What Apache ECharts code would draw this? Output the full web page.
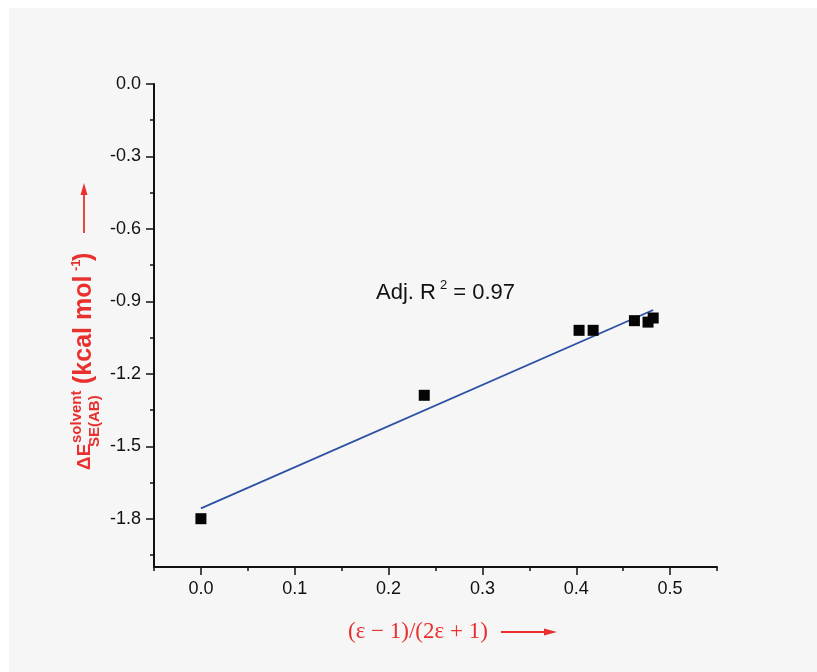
<!DOCTYPE html>
<html>
<head>
<meta charset="utf-8">
<script src="https://cdn.jsdelivr.net/npm/echarts@6/dist/echarts.min.js"></script>
<style>
html,body{margin:0;padding:0;background:#ffffff;}
#bg{position:absolute;left:9px;top:8px;width:808px;height:664px;background:#f6f6f6;}
#chart{position:absolute;left:0;top:0;width:817px;height:672px;}
</style>
</head>
<body>
<div id="bg"></div>
<div id="chart"></div>
<script>
// Data
const xValues = [0.0, 0.238, 0.403, 0.418, 0.462, 0.4765, 0.482];
const yValues = [-1.80, -1.289, -1.020, -1.020, -0.980, -0.986, -0.969];
const fitX = [0.0, 0.482];
const fitY = [-1.757, -0.936];
const xTickLabels = [0.0, 0.1, 0.2, 0.3, 0.4, 0.5];
const xMinorTicks = [-0.05, 0.05, 0.15, 0.25, 0.35, 0.45, 0.55];
const yTickLabels = [0.0, -0.3, -0.6, -0.9, -1.2, -1.5, -1.8];
const yMinorTicks = [-0.15, -0.45, -0.75, -1.05, -1.35, -1.65, -1.95];

const RED = '#e8312f';
const SANS = 'Arial, "Liberation Sans", sans-serif';
const chart = echarts.init(document.getElementById('chart'), null, {renderer: 'canvas'});

const scatterData = xValues.map((x, i) => [x, yValues[i]]);
const fitData = fitX.map((x, i) => [x, fitY[i]]);

chart.setOption({
  backgroundColor: 'transparent',
  animation: false,
  grid: {left: 154, right: 100, top: 84, bottom: 105, containLabel: false},
  xAxis: [{
    type: 'value', min: -0.05, max: 0.55,
    axisLine: {show: true, onZero: false, lineStyle: {color: '#111', width: 2}},
    axisTick: {show: true, inside: false, length: 8, customValues: xTickLabels, lineStyle: {color: '#111', width: 1.5}},
    axisLabel: {show: true, margin: 13, customValues: xTickLabels, formatter: v => v.toFixed(1),
      fontFamily: SANS, fontSize: 18, color: '#111'},
    splitLine: {show: false}
  }, {
    type: 'value', min: -0.05, max: 0.55, position: 'bottom',
    axisLine: {show: false, onZero: false},
    axisTick: {show: true, inside: false, length: 4, customValues: xMinorTicks, lineStyle: {color: '#111', width: 1.5}},
    axisLabel: {show: false},
    splitLine: {show: false}
  }],
  yAxis: [{
    type: 'value', min: -2.0, max: 0.0,
    axisLine: {show: true, onZero: false, lineStyle: {color: '#111', width: 2}},
    axisTick: {show: true, inside: false, length: 8, customValues: yTickLabels, lineStyle: {color: '#111', width: 1.5}},
    axisLabel: {show: true, margin: 13, customValues: yTickLabels, formatter: v => v.toFixed(1),
      fontFamily: SANS, fontSize: 18, color: '#111'},
    splitLine: {show: false}
  }, {
    type: 'value', min: -2.0, max: 0.0, position: 'left',
    axisLine: {show: false, onZero: false},
    axisTick: {show: true, inside: false, length: 4, customValues: yMinorTicks, lineStyle: {color: '#111', width: 1.5}},
    axisLabel: {show: false},
    splitLine: {show: false}
  }],
  series: [{
    type: 'line', data: fitData, showSymbol: false, symbol: 'none',
    lineStyle: {color: '#2c50a5', width: 1.8}, z: 2
  }, {
    type: 'scatter', data: scatterData, symbol: 'rect', symbolSize: 11,
    itemStyle: {color: '#050505', opacity: 1}, z: 3
  }],
  graphic: [
    // Adj. R^2 annotation
    {type: 'text', x: 376, y: 293, style: {text: 'Adj. R', fontFamily: SANS, fontSize: 22, fill: '#111', textAlign: 'left', textVerticalAlign: 'middle'}},
    {type: 'text', x: 440, y: 285, style: {text: '2', fontFamily: SANS, fontSize: 13, fill: '#111', textAlign: 'left', textVerticalAlign: 'middle'}},
    {type: 'text', x: 515, y: 293, style: {text: '= 0.97', fontFamily: SANS, fontSize: 22, fill: '#111', textAlign: 'right', textVerticalAlign: 'middle'}},
    // X axis title
    {type: 'text', x: 348, y: 632, style: {text: '(\u03b5 \u2212 1)/(2\u03b5 + 1)', fontFamily: '"Liberation Serif", "Times New Roman", serif', fontSize: 23, fill: RED, textAlign: 'left', textVerticalAlign: 'middle'}},
    {type: 'line', shape: {x1: 501, y1: 632, x2: 548, y2: 632}, style: {stroke: RED, lineWidth: 1.8}},
    {type: 'polygon', shape: {points: [[544, 628.5], [557, 632], [544, 635.5]]}, style: {fill: RED}},
    // Y axis title (rotated pieces)
    {type: 'text', x: 85, y: 470, rotation: Math.PI / 2, style: {text: '\u0394E', fontFamily: SANS, fontWeight: 'bold', fontSize: 19, fill: RED, textAlign: 'left', textVerticalAlign: 'middle'}},
    {type: 'text', x: 77, y: 443, rotation: Math.PI / 2, style: {text: 'solvent', fontFamily: SANS, fontWeight: 'bold', fontSize: 15, fill: RED, textAlign: 'left', textVerticalAlign: 'middle'}},
    {type: 'text', x: 95, y: 447, rotation: Math.PI / 2, style: {text: 'SE(AB)', fontFamily: SANS, fontWeight: 'bold', fontSize: 15, fill: RED, textAlign: 'left', textVerticalAlign: 'middle'}},
    {type: 'text', x: 84, y: 384, rotation: Math.PI / 2, style: {text: '(kcal mol', fontFamily: SANS, fontWeight: 'bold', fontSize: 25, fill: RED, textAlign: 'left', textVerticalAlign: 'middle'}},
    {type: 'text', x: 76, y: 271, rotation: Math.PI / 2, style: {text: '-1', fontFamily: SANS, fontWeight: 'bold', fontSize: 13, fill: RED, textAlign: 'left', textVerticalAlign: 'middle'}},
    {type: 'text', x: 84, y: 261, rotation: Math.PI / 2, style: {text: ')', fontFamily: SANS, fontWeight: 'bold', fontSize: 25, fill: RED, textAlign: 'left', textVerticalAlign: 'middle'}},
    {type: 'line', shape: {x1: 84, y1: 233, x2: 84, y2: 192}, style: {stroke: RED, lineWidth: 1.8}},
    {type: 'polygon', shape: {points: [[80.5, 195], [84, 183], [87.5, 195]]}, style: {fill: RED}}
  ]
});
</script>
</body>
</html>
